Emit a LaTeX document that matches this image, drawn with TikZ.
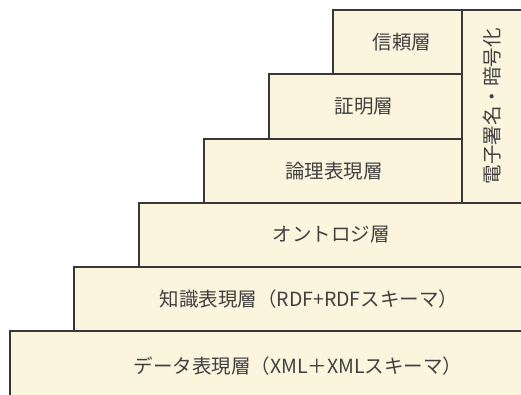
\documentclass[tikz,border=0pt]{standalone}
\usepackage{fontspec}
\setmainfont{Noto Sans CJK JP}
\begin{document}
\begin{tikzpicture}[x=1pt,y=-1pt,
  layer/.style={draw=black!78, fill=boxfill, line width=1.3pt},
  lbl/.style={font=\fontsize{19.5}{22}\selectfont, text=black!75, inner sep=0pt}]
\definecolor{boxfill}{RGB}{251,245,222}
\useasboundingbox (0,0) rectangle (521,394);
\clip (0,0) rectangle (521,394);
% layers
\draw[layer] (10,331) rectangle (530,400);
\draw[layer] (74,267) rectangle (530,331);
\draw[layer] (139,203) rectangle (530,267);
\draw[layer] (204,139) rectangle (462,203);
\draw[layer] (269,74) rectangle (462,139);
\draw[layer] (333,10) rectangle (462,74);
\draw[layer] (462,10) rectangle (530,203);
% labels
\node[lbl] (trust) at (402,42) {信頼層};
\node[lbl] (proof) at (364,106) {証明層};
\node[lbl] (logic) at (334,171) {論理表現層};
\node[lbl] (onto) at (331,235) {オントロジ層};
\node[lbl] (know) at (309,299) {知識表現層（RDF+RDFスキーマ）};
\node[lbl] (data) at (298,366) {データ表現層（XML＋XMLスキーマ）};
\node[lbl, rotate=90] (sig) at (492,106) {電子署名・暗号化};
\end{tikzpicture}
\end{document}
